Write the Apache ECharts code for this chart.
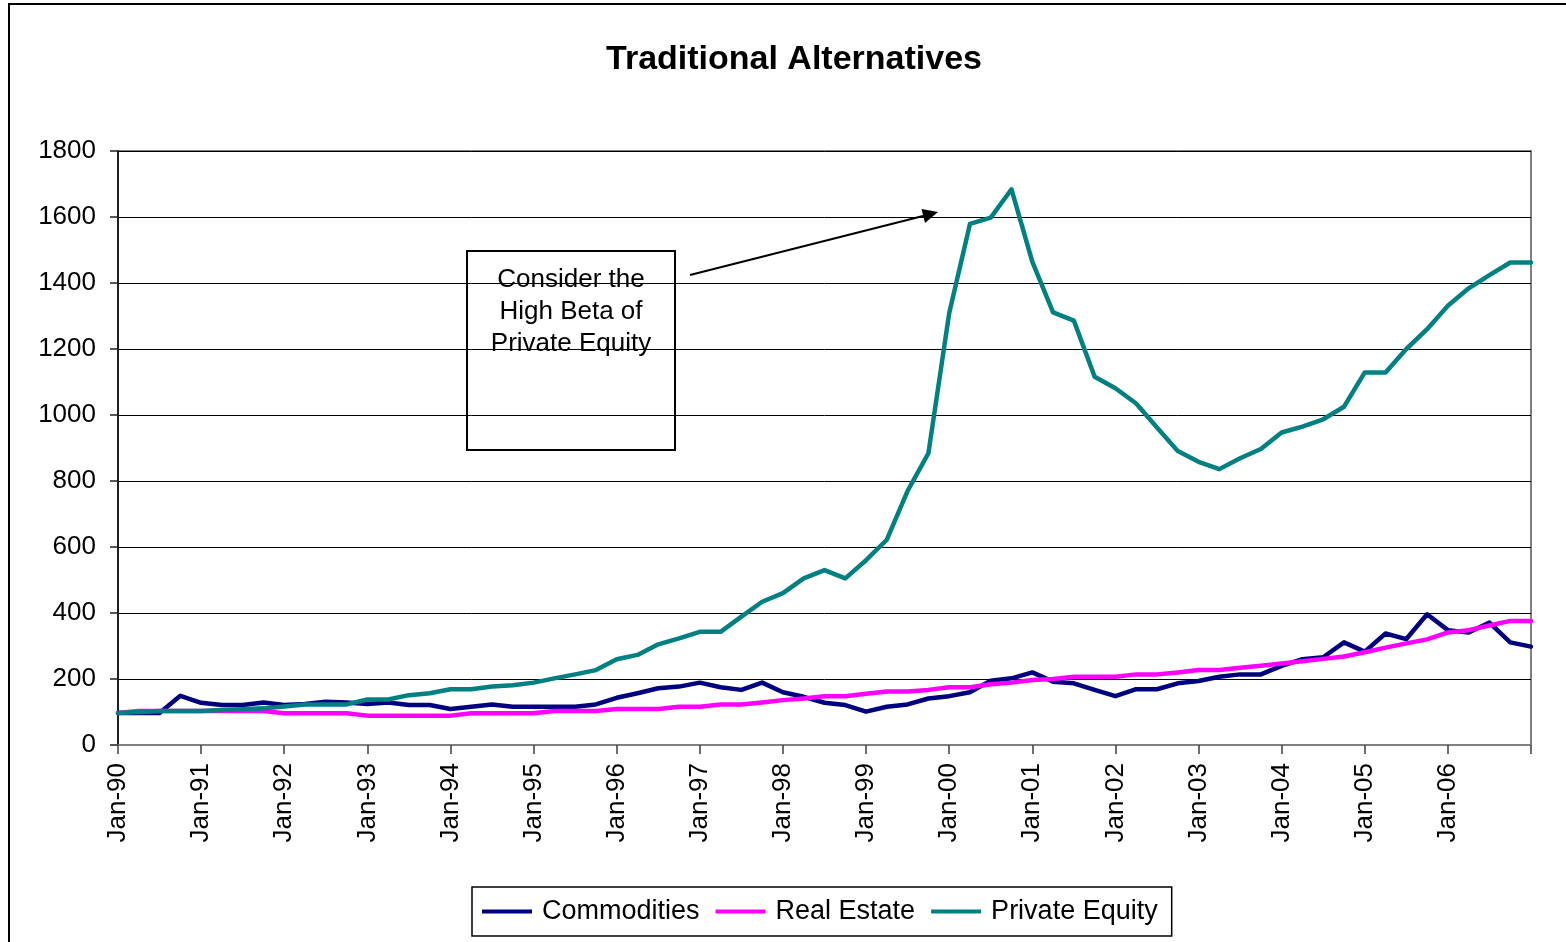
<!DOCTYPE html>
<html>
<head>
<meta charset="utf-8">
<title>Traditional Alternatives</title>
<script src="https://cdn.jsdelivr.net/npm/echarts@6/dist/echarts.min.js"></script>
<style>
  html, body { margin: 0; padding: 0; background: #fff; }
  #chart { width: 1566px; height: 942px; }
</style>
</head>
<body>
<div id="chart"></div>
<script>
// Quarterly observations, Jan-90 through Jan-07
const categories = [
  'Jan-90','Apr-90','Jul-90','Oct-90',
  'Jan-91','Apr-91','Jul-91','Oct-91',
  'Jan-92','Apr-92','Jul-92','Oct-92',
  'Jan-93','Apr-93','Jul-93','Oct-93',
  'Jan-94','Apr-94','Jul-94','Oct-94',
  'Jan-95','Apr-95','Jul-95','Oct-95',
  'Jan-96','Apr-96','Jul-96','Oct-96',
  'Jan-97','Apr-97','Jul-97','Oct-97',
  'Jan-98','Apr-98','Jul-98','Oct-98',
  'Jan-99','Apr-99','Jul-99','Oct-99',
  'Jan-00','Apr-00','Jul-00','Oct-00',
  'Jan-01','Apr-01','Jul-01','Oct-01',
  'Jan-02','Apr-02','Jul-02','Oct-02',
  'Jan-03','Apr-03','Jul-03','Oct-03',
  'Jan-04','Apr-04','Jul-04','Oct-04',
  'Jan-05','Apr-05','Jul-05','Oct-05',
  'Jan-06','Apr-06','Jul-06','Oct-06',
  'Jan-07'
];

const commodities = [
  97, 97, 97, 149,
  128, 121, 121, 129,
  121, 124, 131, 129,
  124, 129, 121, 121,
  109, 116, 123, 116,
  116, 116, 116, 123,
  143, 157, 172, 177,
  189, 175, 167, 189,
  160, 146, 128, 121,
  101, 116, 123, 141,
  148, 160, 195, 202,
  220, 192, 187, 167,
  148, 169, 169, 187,
  194, 207, 214, 214,
  240, 260, 266, 311,
  283, 338, 321, 396,
  348, 341, 371, 311,
  298
];

const realEstate = [
  97, 103, 103, 103,
  103, 103, 103, 103,
  96, 96, 96, 96,
  89, 89, 89, 89,
  89, 96, 96, 96,
  96, 103, 103, 103,
  109, 109, 109, 116,
  116, 123, 123, 129,
  136, 141, 148, 148,
  155, 162, 162, 167,
  175, 175, 184, 189,
  197, 200, 207, 207,
  207, 214, 214, 220,
  227, 227, 234, 240,
  247, 254, 261, 268,
  281, 295, 308, 320,
  341, 348, 362, 376,
  376
];

const privateEquity = [
  97, 100, 103, 103,
  103, 106, 108, 111,
  117, 123, 123, 123,
  138, 138, 151, 157,
  169, 169, 177, 181,
  189, 202, 214, 227,
  260, 273, 305, 323,
  343, 343, 389, 434,
  460, 505, 530, 505,
  560, 622, 770, 884,
  1308, 1579, 1598, 1684,
  1465, 1311, 1286, 1116,
  1081, 1035, 962, 891,
  858, 836, 869, 897,
  947, 965, 987, 1025,
  1129, 1129, 1200, 1260,
  1331, 1384, 1424, 1462,
  1462
];

const seriesNames = ['Commodities', 'Real Estate', 'Private Equity'];
const seriesColors = ['#000080', '#FF00FF', '#008080'];
const noteText = 'Consider the\nHigh Beta of\nPrivate Equity';

const FONT = '"Liberation Sans", Arial, Helvetica, sans-serif';

const chart = echarts.init(document.getElementById('chart'), null, { renderer: 'canvas' });

function lineSeries(name, data, color) {
  return {
    name: name,
    type: 'line',
    data: data,
    showSymbol: false,
    symbol: 'none',
    smooth: false,
    lineStyle: { color: color, width: 4.5, cap: 'round', join: 'round' },
    itemStyle: { color: color },
    emphasis: { disabled: true },
    animation: false
  };
}

const option = {
  backgroundColor: '#ffffff',
  animation: false,
  title: {
    text: 'Traditional Alternatives',
    left: 789,
    top: 38,
    textAlign: 'center',
    textStyle: { fontFamily: FONT, fontSize: 34, fontWeight: 'bold', color: '#000' }
  },
  grid: {
    left: 118,
    right: 35,
    top: 151,
    bottom: 197,
    show: true,
    borderColor: '#808080',
    borderWidth: 2,
    backgroundColor: 'transparent'
  },
  legend: {
    data: seriesNames.map(n => ({ name: n, icon: 'rect' })),
    left: 472,
    top: 887,
    width: 700,
    padding: [11, 14, 11, 10],
    itemWidth: 50,
    itemHeight: 4,
    itemGap: 16,
    borderColor: '#000',
    borderWidth: 1.5,
    backgroundColor: '#fff',
    selectedMode: false,
    textStyle: { fontFamily: FONT, fontSize: 27, color: '#000', padding: [0, 0, 0, 5] }
  },
  xAxis: {
    type: 'category',
    data: categories,
    boundaryGap: false,
    axisLine: { show: true, lineStyle: { color: '#808080', width: 2 } },
    axisTick: {
      show: true,
      inside: false,
      length: 9,
      interval: (index) => index % 4 === 0,
      lineStyle: { color: '#404040', width: 1.5 }
    },
    axisLabel: {
      show: true,
      rotate: 90,
      margin: 18,
      interval: (index) => index % 4 === 0 && index < categories.length - 1,
      fontFamily: FONT,
      fontSize: 26,
      color: '#000'
    },
    splitLine: { show: false }
  },
  yAxis: {
    type: 'value',
    min: 0,
    max: 1800,
    interval: 200,
    axisLine: { show: true, lineStyle: { color: '#202020', width: 2 } },
    axisTick: { show: true, inside: false, length: 8, lineStyle: { color: '#202020', width: 1.5 } },
    axisLabel: {
      margin: 22,
      fontFamily: FONT,
      fontSize: 26,
      color: '#000',
      formatter: (v) => String(v)
    },
    splitLine: { show: true, lineStyle: { color: '#000', width: 1 } }
  },
  series: [
    lineSeries(seriesNames[0], commodities, seriesColors[0]),
    lineSeries(seriesNames[1], realEstate, seriesColors[1]),
    lineSeries(seriesNames[2], privateEquity, seriesColors[2])
  ],
  graphic: [
    // outer chart frame
    {
      type: 'rect',
      silent: true,
      z: 100,
      shape: { x: 9, y: 4, width: 1620, height: 1000 },
      style: { fill: 'none', stroke: '#000', lineWidth: 2 }
    },
    // note box
    {
      type: 'rect',
      silent: true,
      z: 100,
      shape: { x: 467, y: 251, width: 208, height: 199 },
      style: { fill: 'rgba(255,255,255,0)', stroke: '#000', lineWidth: 2 }
    },
    {
      type: 'text',
      silent: true,
      z: 101,
      x: 571,
      y: 264,
      style: {
        text: noteText,
        font: '26px ' + FONT,
        fill: '#000',
        align: 'center',
        verticalAlign: 'top',
        lineHeight: 32
      }
    },
    // arrow pointing at the peak
    {
      type: 'line',
      silent: true,
      z: 101,
      shape: { x1: 690, y1: 275, x2: 925, y2: 215.5 },
      style: { stroke: '#000', lineWidth: 2 }
    },
    {
      type: 'polygon',
      silent: true,
      z: 101,
      shape: { points: [[938, 212], [921.5, 209], [925, 223]] },
      style: { fill: '#000' }
    }
  ]
};

chart.setOption(option);
</script>
</body>
</html>
